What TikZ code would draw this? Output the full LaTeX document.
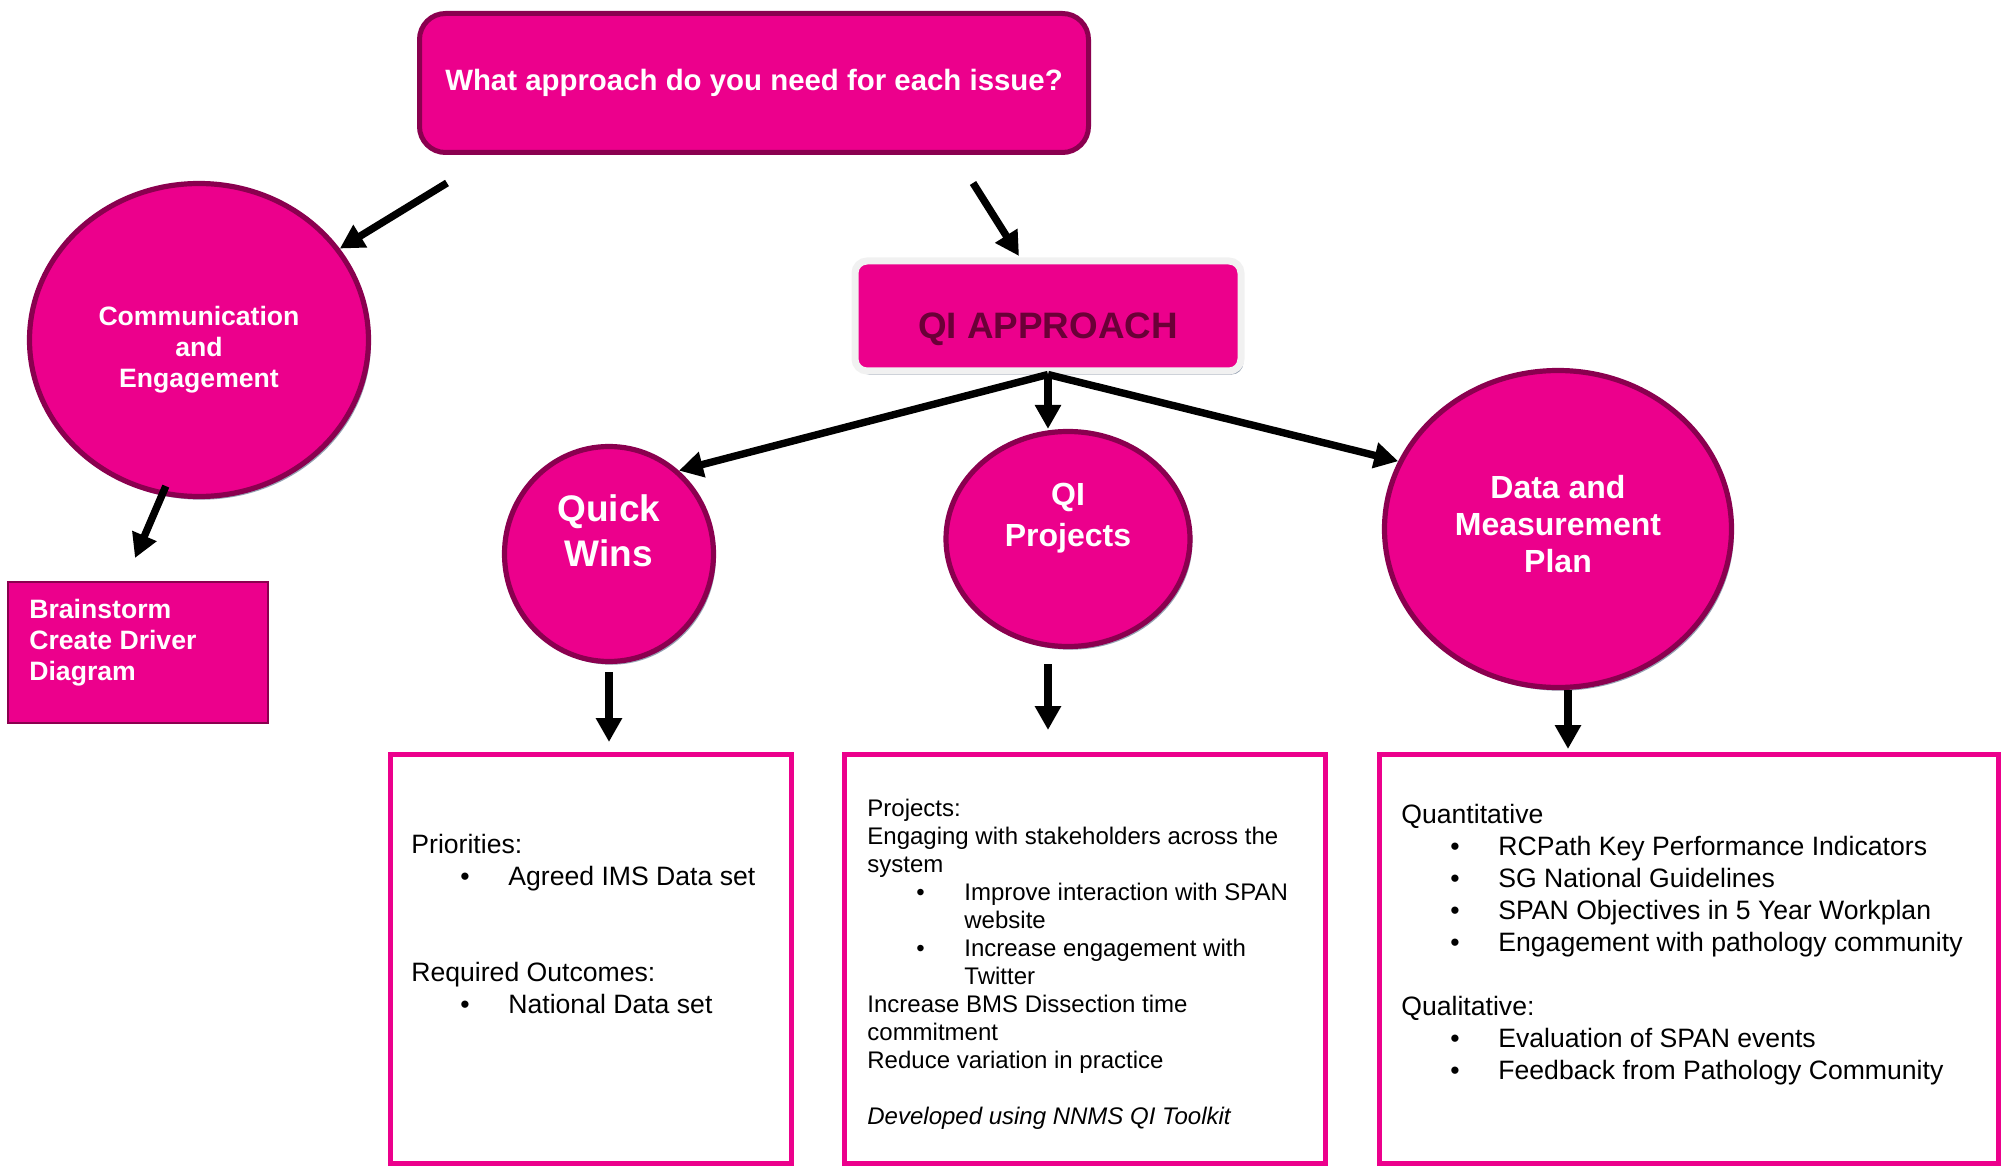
\documentclass[tikz,border=0pt]{standalone}
\usepackage{fontspec}
\setmainfont{Liberation Sans}
\usetikzlibrary{arrows.meta,shapes.geometric,shadows}

\definecolor{qipink}{HTML}{EC008C}
\definecolor{qidark}{HTML}{8A004F}
\definecolor{qitext}{HTML}{6A0037}
\definecolor{qishadow}{HTML}{95A1B2}
\definecolor{qirim}{HTML}{F1F1F1}

\tikzset{
  bubble/.style={ellipse,fill=qipink,draw=qidark,line width=2.6pt,inner sep=0pt,
    drop shadow={shadow xshift=1.2pt,shadow yshift=-1.6pt,fill=qishadow,opacity=1}},
  bubbletext/.style={text=white,align=center,inner sep=0pt},
  itembox/.style={draw=qipink,line width=2.5pt,inner sep=0pt},
  bodytext/.style={anchor=north west,inner sep=0pt,align=left,font=\fontsize{13.3}{16}\selectfont},
  flow/.style={line width=3.7pt,-{Triangle[length=12pt,width=12.5pt]}},
}
\newcommand{\blt}[1]{\hspace*{24.5pt}\makebox[24pt][l]{\textbullet}#1}

\begin{document}
\begin{tikzpicture}[x=0.5pt,y=-0.5pt]
  \useasboundingbox (0,0) rectangle (2010,1166);
  % question and approach
  \node[draw=qidark,line width=2.5pt,fill=qipink,rounded corners=13pt,minimum width=334.5pt,minimum height=69.5pt,text=white,font=\bfseries\fontsize{14.7}{17}\selectfont] at (754,83) (question) {What approach do you need for each issue?};
  \node[draw=qirim,line width=3.5pt,fill=qipink,rounded corners=6pt,minimum width=193pt,minimum height=55pt,inner sep=0pt,text=qitext,font=\bfseries\fontsize{18.4}{20}\selectfont,text height=23pt,text depth=0pt,drop shadow={shadow xshift=1.2pt,shadow yshift=-1.8pt,fill=qishadow,opacity=1}] at (1048,316) (qi) {QI APPROACH};
  % bubbles
  \node[bubble,minimum width=169.5pt,minimum height=156.5pt] at (199,340) (comm) {};
  \node[bubbletext,font=\bfseries\fontsize{13.3}{15.5}\selectfont] at (199,350) (commtext) {Communication\\and\\Engagement};
  \node[bubble,minimum width=104.5pt,minimum height=107.5pt] at (609,554) (quick) {};
  \node[bubbletext,font=\bfseries\fontsize{18.5}{22.5}\selectfont] at (609,531) (quicktext) {Quick\\Wins};
  \node[bubble,minimum width=122pt,minimum height=107.5pt] at (1068,539) (proj) {};
  \node[bubbletext,font=\bfseries\fontsize{16}{20.5}\selectfont] at (1068,518) (projtext) {QI\\Projects};
  \node[bubble,minimum width=173.5pt,minimum height=158.5pt] at (1558,529) (data) {};
  \node[bubbletext,font=\bfseries\fontsize{16}{18.6}\selectfont] at (1558,524) (datatext) {Data and\\Measurement\\Plan};
  % brainstorm box
  \node[draw=qidark,line width=0.8pt,fill=qipink,minimum width=130pt,minimum height=70.5pt] at (138,652.5) (brainstorm) {};
  \node[bodytext,text=white,font=\bfseries\fontsize{13.3}{15.5}\selectfont] at (29,598.5) (brainstormtext) {Brainstorm\\Create Driver\\Diagram};
  % detail boxes
  \node[itembox,minimum width=200.5pt,minimum height=204.5pt] at (591,959) (winsbox) {};
  \node[itembox,minimum width=240.5pt,minimum height=204.5pt] at (1085,959) (projbox) {};
  \node[itembox,minimum width=309.5pt,minimum height=204.5pt] at (1689,959) (databox) {};
  \node[bodytext] at (411,833.5) (winsdetail) {Priorities:\\
    \blt{Agreed IMS Data set}\\[32pt]
    Required Outcomes:\\
    \blt{National Data set}};
  \node[bodytext,font=\fontsize{12}{14}\selectfont] at (867,799) (projdetail) {Projects:\\
    Engaging with stakeholders across the\\
    system\\
    \blt{Improve interaction with SPAN}\\
    \hspace*{48.5pt}website\\
    \blt{Increase engagement with}\\
    \hspace*{48.5pt}Twitter\\
    Increase BMS Dissection time\\
    commitment\\
    Reduce variation in practice\\[14pt]
    \textit{Developed using NNMS QI Toolkit}};
  \node[bodytext] at (1401,803.5) (datadetail) {Quantitative\\
    \blt{RCPath Key Performance Indicators}\\
    \blt{SG National Guidelines}\\
    \blt{SPAN Objectives in 5 Year Workplan}\\
    \blt{Engagement with pathology community}\\[16pt]
    Qualitative:\\
    \blt{Evaluation of SPAN events}\\
    \blt{Feedback from Pathology Community}};
  % arrows
  \coordinate (qleft) at (447,183);
  \coordinate (qright) at (973,183);
  \coordinate (qiin) at (1019,256);
  \coordinate (brainin) at (135,558);
  \draw[flow] (qleft) -- (comm.33);
  \draw[flow] (qright) -- (qiin);
  \draw[flow] (qi.south) -- (quick.50);
  \draw[flow] (qi.south) -- (qi.south |- proj.north);
  \draw[flow] (qi.south) -- (data.157);
  \draw[flow] ([yshift=5pt]comm.258) -- (brainin);
  \draw[flow,shorten <=4pt,shorten >=5pt] (quick.south) -- (quick.south |- winsbox.north);
  \draw[flow,shorten <=7.5pt,shorten >=11pt] (qi.south |- proj.south) -- (qi.south |- projbox.north);
  \draw[flow,shorten >=1.5pt] ([xshift=5pt]data.south) -- ([xshift=5pt]data.south |- databox.north);
\end{tikzpicture}
\end{document}
